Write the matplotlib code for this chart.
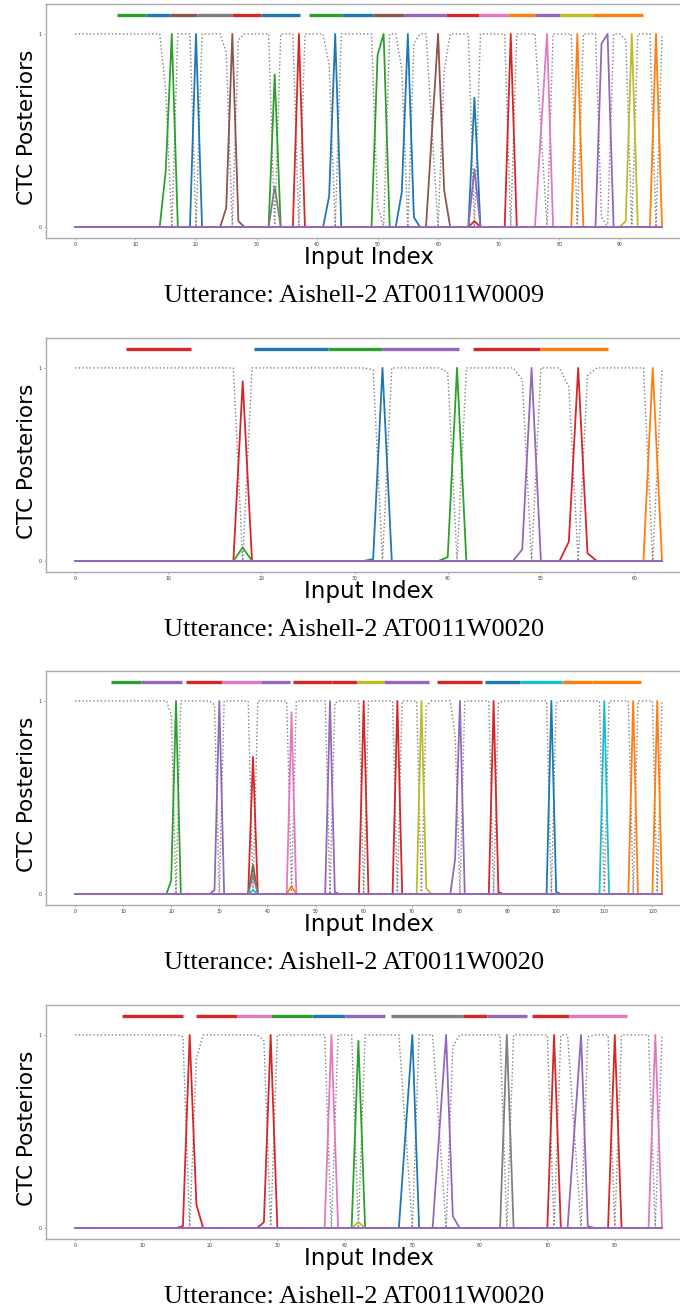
import numpy as np
import matplotlib
matplotlib.use('Agg')
import matplotlib.pyplot as plt

# ---- data ----
captions = ['Utterance: Aishell-2 AT0011W0009',
            'Utterance: Aishell-2 AT0011W0020',
            'Utterance: Aishell-2 AT0011W0020',
            'Utterance: Aishell-2 AT0011W0020']

# number of input frames per utterance
n_frames = [98, 64, 123, 88]

# blank posterior: 1 everywhere except at these frames
p1_blank = {15: 0.71, 16: 0.0, 20: 0.0, 25: 0.9, 26: 0.0, 27: 0.97, 33: 0.0,
            37: 0.0, 42: 0.84, 43: 0.0, 50: 0.11, 51: 0.0, 54: 0.82, 55: 0.0,
            56: 0.95, 59: 0.5, 60: 0.0, 61: 0.81, 66: 0.0, 72: 0.0, 77: 0.5,
            78: 0.0, 83: 0.0, 87: 0.05, 88: 0.0, 91: 0.97, 92: 0.0, 96: 0.0}
p2_blank = {18: 0.0, 32: 0.99, 33: 0.0, 40: 0.98, 41: 0.0, 48: 0.94, 49: 0.0,
            53: 0.9, 54: 0.0, 55: 0.96, 62: 0.0}
p3_blank = {20: 0.93, 21: 0.0, 29: 0.98, 30: 0.0, 37: 0.02, 45: 0.02, 53: 0.0,
            54: 0.99, 60: 0.0, 67: 0.0, 72: 0.0, 73: 0.97, 79: 0.82, 80: 0.0,
            87: 0.0, 88: 0.99, 99: 0.0, 100: 0.99, 110: 0.0, 116: 0.0, 121: 0.0}
p4_blank = {16: 0.99, 17: 0.0, 18: 0.88, 28: 0.97, 29: 0.0, 38: 0.0, 42: 0.0,
            49: 0.5, 50: 0.0, 54: 0.5, 55: 0.0, 56: 0.94, 64: 0.0, 71: 0.0,
            74: 0.5, 75: 0.0, 76: 0.99, 80: 0.0, 86: 0.0}

# token posteriors: (colour, first frame, values), zero elsewhere.
# the last entry of each list is a token that never fires (drawn on top)
p1_tokens = [('tab:green', 15, [0.29, 1.0]), ('tab:blue', 20, [1.0]),
             ('tab:brown', 25, [0.1, 1.0, 0.03]), ('tab:green', 33, [0.79]),
             ('tab:gray', 33, [0.21]), ('tab:red', 37, [1.0]),
             ('tab:blue', 42, [0.16, 1.0]), ('tab:green', 50, [0.89, 1.0]),
             ('tab:blue', 54, [0.18, 1.0, 0.05]), ('tab:brown', 59, [0.5, 1.0, 0.19]),
             ('tab:blue', 66, [0.67]), ('tab:red', 66, [0.03]),
             ('tab:red', 72, [1.0]), ('tab:pink', 77, [0.5, 1.0]),
             ('tab:orange', 83, [1.0]), ('tab:olive', 91, [0.03, 1.0]),
             ('tab:orange', 96, [1.0]), ('tab:purple', 66, [0.3]),
             ('tab:purple', 87, [0.95, 1.0]), ('tab:purple', 0, [])]
p2_tokens = [('tab:red', 18, [0.93]), ('tab:green', 18, [0.07]),
             ('tab:blue', 32, [0.01, 1.0]), ('tab:green', 40, [0.02, 1.0]),
             ('tab:red', 53, [0.1, 1.0, 0.04]), ('tab:orange', 62, [1.0]),
             ('tab:purple', 48, [0.06, 1.0]), ('tab:purple', 0, [])]
p3_tokens = [('tab:green', 20, [0.07, 1.0]), ('tab:red', 37, [0.71]),
             ('tab:brown', 37, [0.15]), ('tab:gray', 37, [0.1]),
             ('tab:cyan', 37, [0.02]), ('tab:pink', 45, [0.94]),
             ('tab:orange', 45, [0.04]), ('tab:red', 60, [1.0]),
             ('tab:red', 67, [1.0]), ('tab:olive', 72, [1.0, 0.03]),
             ('tab:red', 87, [1.0, 0.01]), ('tab:blue', 99, [1.0, 0.01]),
             ('tab:cyan', 110, [1.0]), ('tab:orange', 116, [1.0]),
             ('tab:orange', 121, [1.0]), ('tab:purple', 29, [0.02, 1.0]),
             ('tab:purple', 53, [1.0, 0.01]), ('tab:purple', 79, [0.18, 1.0]),
             ('tab:purple', 0, [])]
p4_tokens = [('tab:red', 16, [0.01, 1.0, 0.12]), ('tab:red', 28, [0.03, 1.0]),
             ('tab:pink', 38, [1.0]), ('tab:green', 42, [0.97]),
             ('tab:olive', 42, [0.03]), ('tab:blue', 49, [0.5, 1.0]),
             ('tab:gray', 64, [1.0]), ('tab:red', 71, [1.0]),
             ('tab:red', 80, [1.0]), ('tab:pink', 86, [1.0]),
             ('tab:purple', 54, [0.5, 1.0, 0.06]), ('tab:purple', 74, [0.5, 1.0, 0.01]),
             ('tab:purple', 0, [])]

# reference label segments drawn above the curves: (start, end, colour)
p1_bars = [(6.95, 11.75, 'tab:green'), (11.75, 15.7, 'tab:blue'), (15.7, 20.2, 'tab:brown'),
           (20.2, 26.0, 'tab:gray'), (26.0, 30.8, 'tab:red'), (30.8, 37.1, 'tab:blue'),
           (38.7, 44.2, 'tab:green'), (44.2, 49.3, 'tab:blue'), (49.3, 54.3, 'tab:brown'),
           (54.3, 61.3, 'tab:purple'), (61.3, 66.7, 'tab:red'), (66.7, 71.5, 'tab:pink'),
           (71.5, 76.0, 'tab:orange'), (76.0, 80.1, 'tab:purple'), (80.1, 85.6, 'tab:olive'),
           (85.6, 93.9, 'tab:orange')]
p2_bars = [(5.46, 12.5, 'tab:red'), (19.2, 27.2, 'tab:blue'), (27.2, 33.0, 'tab:green'),
           (33.0, 41.25, 'tab:purple'), (42.75, 49.9, 'tab:red'), (49.9, 57.2, 'tab:orange')]
p3_bars = [(7.5, 13.7, 'tab:green'), (13.7, 22.3, 'tab:purple'), (23.0, 30.5, 'tab:red'),
           (30.5, 38.7, 'tab:pink'), (38.7, 44.6, 'tab:purple'), (45.3, 53.5, 'tab:red'),
           (53.5, 58.6, 'tab:red'), (58.6, 64.3, 'tab:olive'), (64.3, 73.6, 'tab:purple'),
           (75.3, 84.6, 'tab:red'), (85.2, 92.4, 'tab:blue'), (92.4, 101.3, 'tab:cyan'),
           (101.3, 107.4, 'tab:orange'), (107.4, 117.6, 'tab:orange')]
p4_bars = [(7.0, 16.0, 'tab:red'), (18.0, 24.0, 'tab:red'), (24.0, 29.0, 'tab:pink'),
           (29.0, 35.1, 'tab:green'), (35.1, 40.0, 'tab:blue'), (40.0, 46.0, 'tab:purple'),
           (46.8, 57.5, 'tab:gray'), (57.5, 61.0, 'tab:red'), (61.0, 67.0, 'tab:purple'),
           (67.7, 73.2, 'tab:red'), (73.2, 81.8, 'tab:pink')]

blanks = [p1_blank, p2_blank, p3_blank, p4_blank]
tokens = [p1_tokens, p2_tokens, p3_tokens, p4_tokens]
bars = [p1_bars, p2_bars, p3_bars, p4_bars]

BAR_Y = 1.1
W, H = 680, 1308


def draw_panel(ax, n, blank, toks, segs):
    x = np.arange(n)
    b = np.ones(n)
    for k, v in blank.items():
        b[k] = v
    ax.plot(x, b, ':', color='#7f7f7f', lw=1.0)
    for col, start, vals in toks:
        y = np.zeros(n)
        y[start:start + len(vals)] = vals
        ax.plot(x, y, color=col, lw=1.3)
    for s, e, col in segs:
        ax.hlines(BAR_Y, s, e, colors=col, lw=2.4)

    ax.set_yticks([0, 1])
    ax.set_xticks(np.arange(0, n, 10))
    ax.tick_params(labelsize=3.3, length=1.5, width=0.5, pad=1.5,
                   color='#999999', labelcolor='#333333')
    for sp in ax.spines.values():
        sp.set_color('#aaaaaa')
        sp.set_linewidth(1.0)


fig = plt.figure(figsize=(W / 100, H / 100), dpi=100)
tops = [4, 338, 671, 1005]
ax_h = 233.6
for i in range(4):
    top = tops[i]
    ax = fig.add_axes([45.6 / W, 1 - (top + ax_h) / H, 645.8 / W, ax_h / H])
    draw_panel(ax, n_frames[i], blanks[i], tokens[i], bars[i])
    fig.text(27 / W, 1 - (top + 123) / H, 'CTC Posteriors', rotation=90,
             ha='center', va='center', fontsize=15.5)
    fig.text(368.5 / W, 1 - (top + 253.5) / H, 'Input Index',
             ha='center', va='center', fontsize=16.5)
    fig.text(354 / W, 1 - (top + 292) / H, captions[i], ha='center', va='center',
             fontsize=19, family=['Liberation Serif', 'DejaVu Serif'])

plt.savefig('out.png', dpi=100)
